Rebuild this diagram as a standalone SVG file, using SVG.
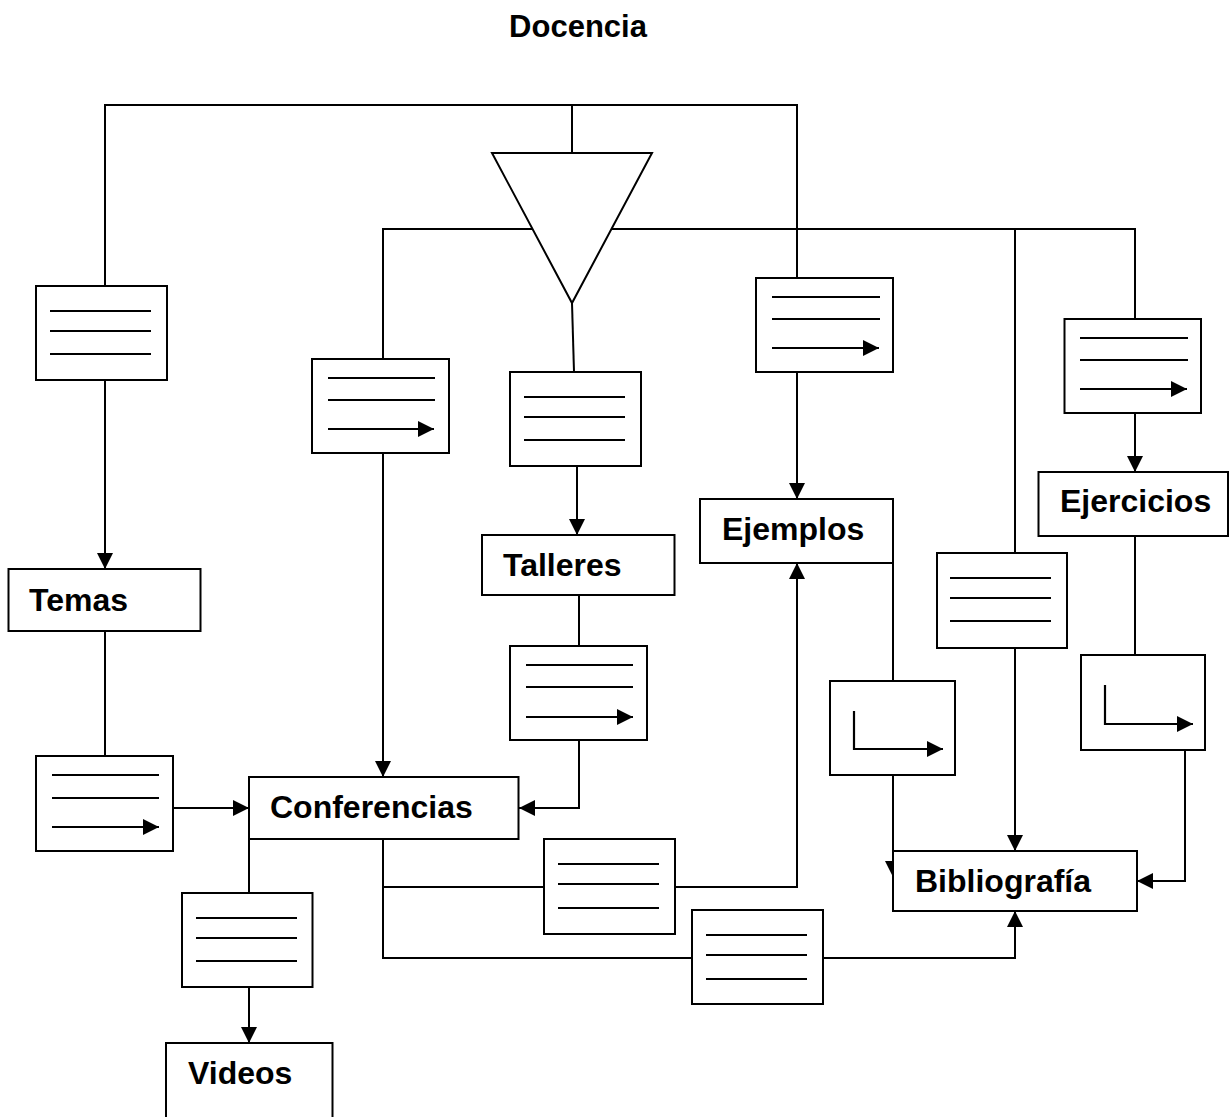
<svg xmlns="http://www.w3.org/2000/svg" width="1229" height="1117" viewBox="0 0 1229 1117">
  <defs>
    <marker id="arrow" viewBox="0 0 16 16" refX="16" refY="8" markerWidth="16" markerHeight="16" markerUnits="userSpaceOnUse" orient="auto">
      <path d="M0,0 L16,8 L0,16 z" fill="#000"/>
    </marker>
  </defs>
  <style>
    rect, polygon { fill: #fff; stroke: #000; stroke-width: 2; }
    .wire { fill: none; stroke: #000; stroke-width: 2; }
    .ln { fill: none; stroke: #000; stroke-width: 2.2; }
    .arr { marker-end: url(#arrow); }
    text { font-family: "Liberation Sans", Arial, sans-serif; font-weight: bold; fill: #000; }
    .label { font-size: 32px; }
    .title { font-size: 31px; }
  </style>

  <rect x="0" y="0" width="1229" height="1117" style="fill:#fff;stroke:none"/>

  <text class="title" x="578" y="37" text-anchor="middle">Docencia</text>

  <!-- connectors -->
  <g id="connectors">
    <path class="wire" d="M105,286 V105 H797 V278"/>
    <path class="wire" d="M572,105 V153"/>
    <path class="wire arr" d="M105,380 V569"/>
    <path class="wire" d="M383,359 V229 H532.5"/>
    <path class="wire" d="M611.5,229 H1135 V319"/>
    <path class="wire" d="M1015,229 V553"/>
    <path class="wire" d="M572,303 L574,372"/>
    <path class="wire arr" d="M577,466 V535"/>
    <path class="wire arr" d="M383,453 V777"/>
    <path class="wire arr" d="M797,372 V499"/>
    <path class="wire arr" d="M1135,413 V472"/>
    <path class="wire" d="M105,631 V756"/>
    <path class="wire arr" d="M173,808 H249"/>
    <path class="wire" d="M579,595 V646"/>
    <path class="wire arr" d="M579,740 V808 H519"/>
    <path class="wire" d="M249,839 V893"/>
    <path class="wire arr" d="M249,987 V1043"/>
    <path class="wire" d="M383,839 V958 H692"/>
    <path class="wire" d="M383,887 H544"/>
    <path class="wire arr" d="M675,887 H797 V563"/>
    <path class="wire arr" d="M823,958 H1015 V911"/>
    <path class="wire" d="M893,563 V681"/>
    <path class="wire arr" d="M893,775 V877"/>
    <path class="wire arr" d="M1015,648 V851"/>
    <path class="wire" d="M1135,536 V655"/>
    <path class="wire arr" d="M1185,750 V881 H1137"/>
  </g>

  <!-- merge symbol -->
  <g id="merge">
    <polygon points="492,153 652,153 572,303"/>
  </g>

  <!-- document symbols -->
  <g id="doc-temas-in">
    <rect x="36" y="286" width="131" height="94"/>
    <path class="ln" d="M50,311 H151 M50,331 H151 M50,354 H151"/>
  </g>
  <g id="doc-conf-in">
    <rect x="312" y="359" width="137" height="94"/>
    <path class="ln" d="M328,378 H435 M328,400 H435"/>
    <path class="ln arr" d="M328,429 H434"/>
  </g>
  <g id="doc-talleres-in">
    <rect x="510" y="372" width="131" height="94"/>
    <path class="ln" d="M524,397 H625 M524,417 H625 M524,440 H625"/>
  </g>
  <g id="doc-ejemplos-in">
    <rect x="756" y="278" width="137" height="94"/>
    <path class="ln" d="M772,297 H880 M772,319 H880"/>
    <path class="ln arr" d="M772,348 H879"/>
  </g>
  <g id="doc-ejercicios-in">
    <rect x="1064.5" y="319" width="136.5" height="94"/>
    <path class="ln" d="M1080,338 H1188 M1080,360 H1188"/>
    <path class="ln arr" d="M1080,389 H1187"/>
  </g>
  <g id="doc-talleres-conf">
    <rect x="510" y="646" width="137" height="94"/>
    <path class="ln" d="M526,665 H633 M526,687 H633"/>
    <path class="ln arr" d="M526,717 H633"/>
  </g>
  <g id="doc-temas-conf">
    <rect x="36" y="756" width="137" height="95"/>
    <path class="ln" d="M52,775 H159 M52,798 H159"/>
    <path class="ln arr" d="M52,827 H159"/>
  </g>
  <g id="doc-ejemplos-biblio">
    <rect x="830" y="681" width="125" height="94"/>
    <path class="ln arr" d="M854,711 V749 H943"/>
  </g>
  <g id="doc-biblio-mid">
    <rect x="937" y="553" width="130" height="95"/>
    <path class="ln" d="M950,578 H1051 M950,598 H1051 M950,621 H1051"/>
  </g>
  <g id="doc-ejercicios-biblio">
    <rect x="1081" y="655" width="124" height="95"/>
    <path class="ln arr" d="M1105,685 V724 H1193"/>
  </g>
  <g id="doc-conf-videos">
    <rect x="182" y="893" width="130.5" height="94"/>
    <path class="ln" d="M196,918 H297 M196,938 H297 M196,961 H297"/>
  </g>
  <g id="doc-conf-ejemplos">
    <rect x="544" y="839" width="131" height="95"/>
    <path class="ln" d="M558,864 H659 M558,884 H659 M558,908 H659"/>
  </g>
  <g id="doc-conf-biblio">
    <rect x="692" y="910" width="131" height="94"/>
    <path class="ln" d="M706,935 H807 M706,955 H807 M706,979 H807"/>
  </g>

  <!-- labelled nodes -->
  <g id="temas">
    <rect x="8.5" y="569" width="192" height="62"/>
    <text class="label" x="29" y="611">Temas</text>
  </g>
  <g id="talleres">
    <rect x="482" y="535" width="192.5" height="60"/>
    <text class="label" x="503" y="576">Talleres</text>
  </g>
  <g id="ejemplos">
    <rect x="700" y="499" width="193" height="64"/>
    <text class="label" x="722" y="540">Ejemplos</text>
  </g>
  <g id="ejercicios">
    <rect x="1038.5" y="472" width="189.5" height="64"/>
    <text class="label" x="1060" y="512">Ejercicios</text>
  </g>
  <g id="conferencias">
    <rect x="249" y="777" width="269.5" height="62"/>
    <text class="label" x="270" y="818">Conferencias</text>
  </g>
  <g id="bibliografia">
    <rect x="893" y="851" width="244" height="60"/>
    <text class="label" x="915" y="892">Bibliografía</text>
  </g>
  <g id="videos">
    <rect x="166" y="1043" width="166.5" height="80"/>
    <text class="label" x="188" y="1084">Videos</text>
  </g>
</svg>
